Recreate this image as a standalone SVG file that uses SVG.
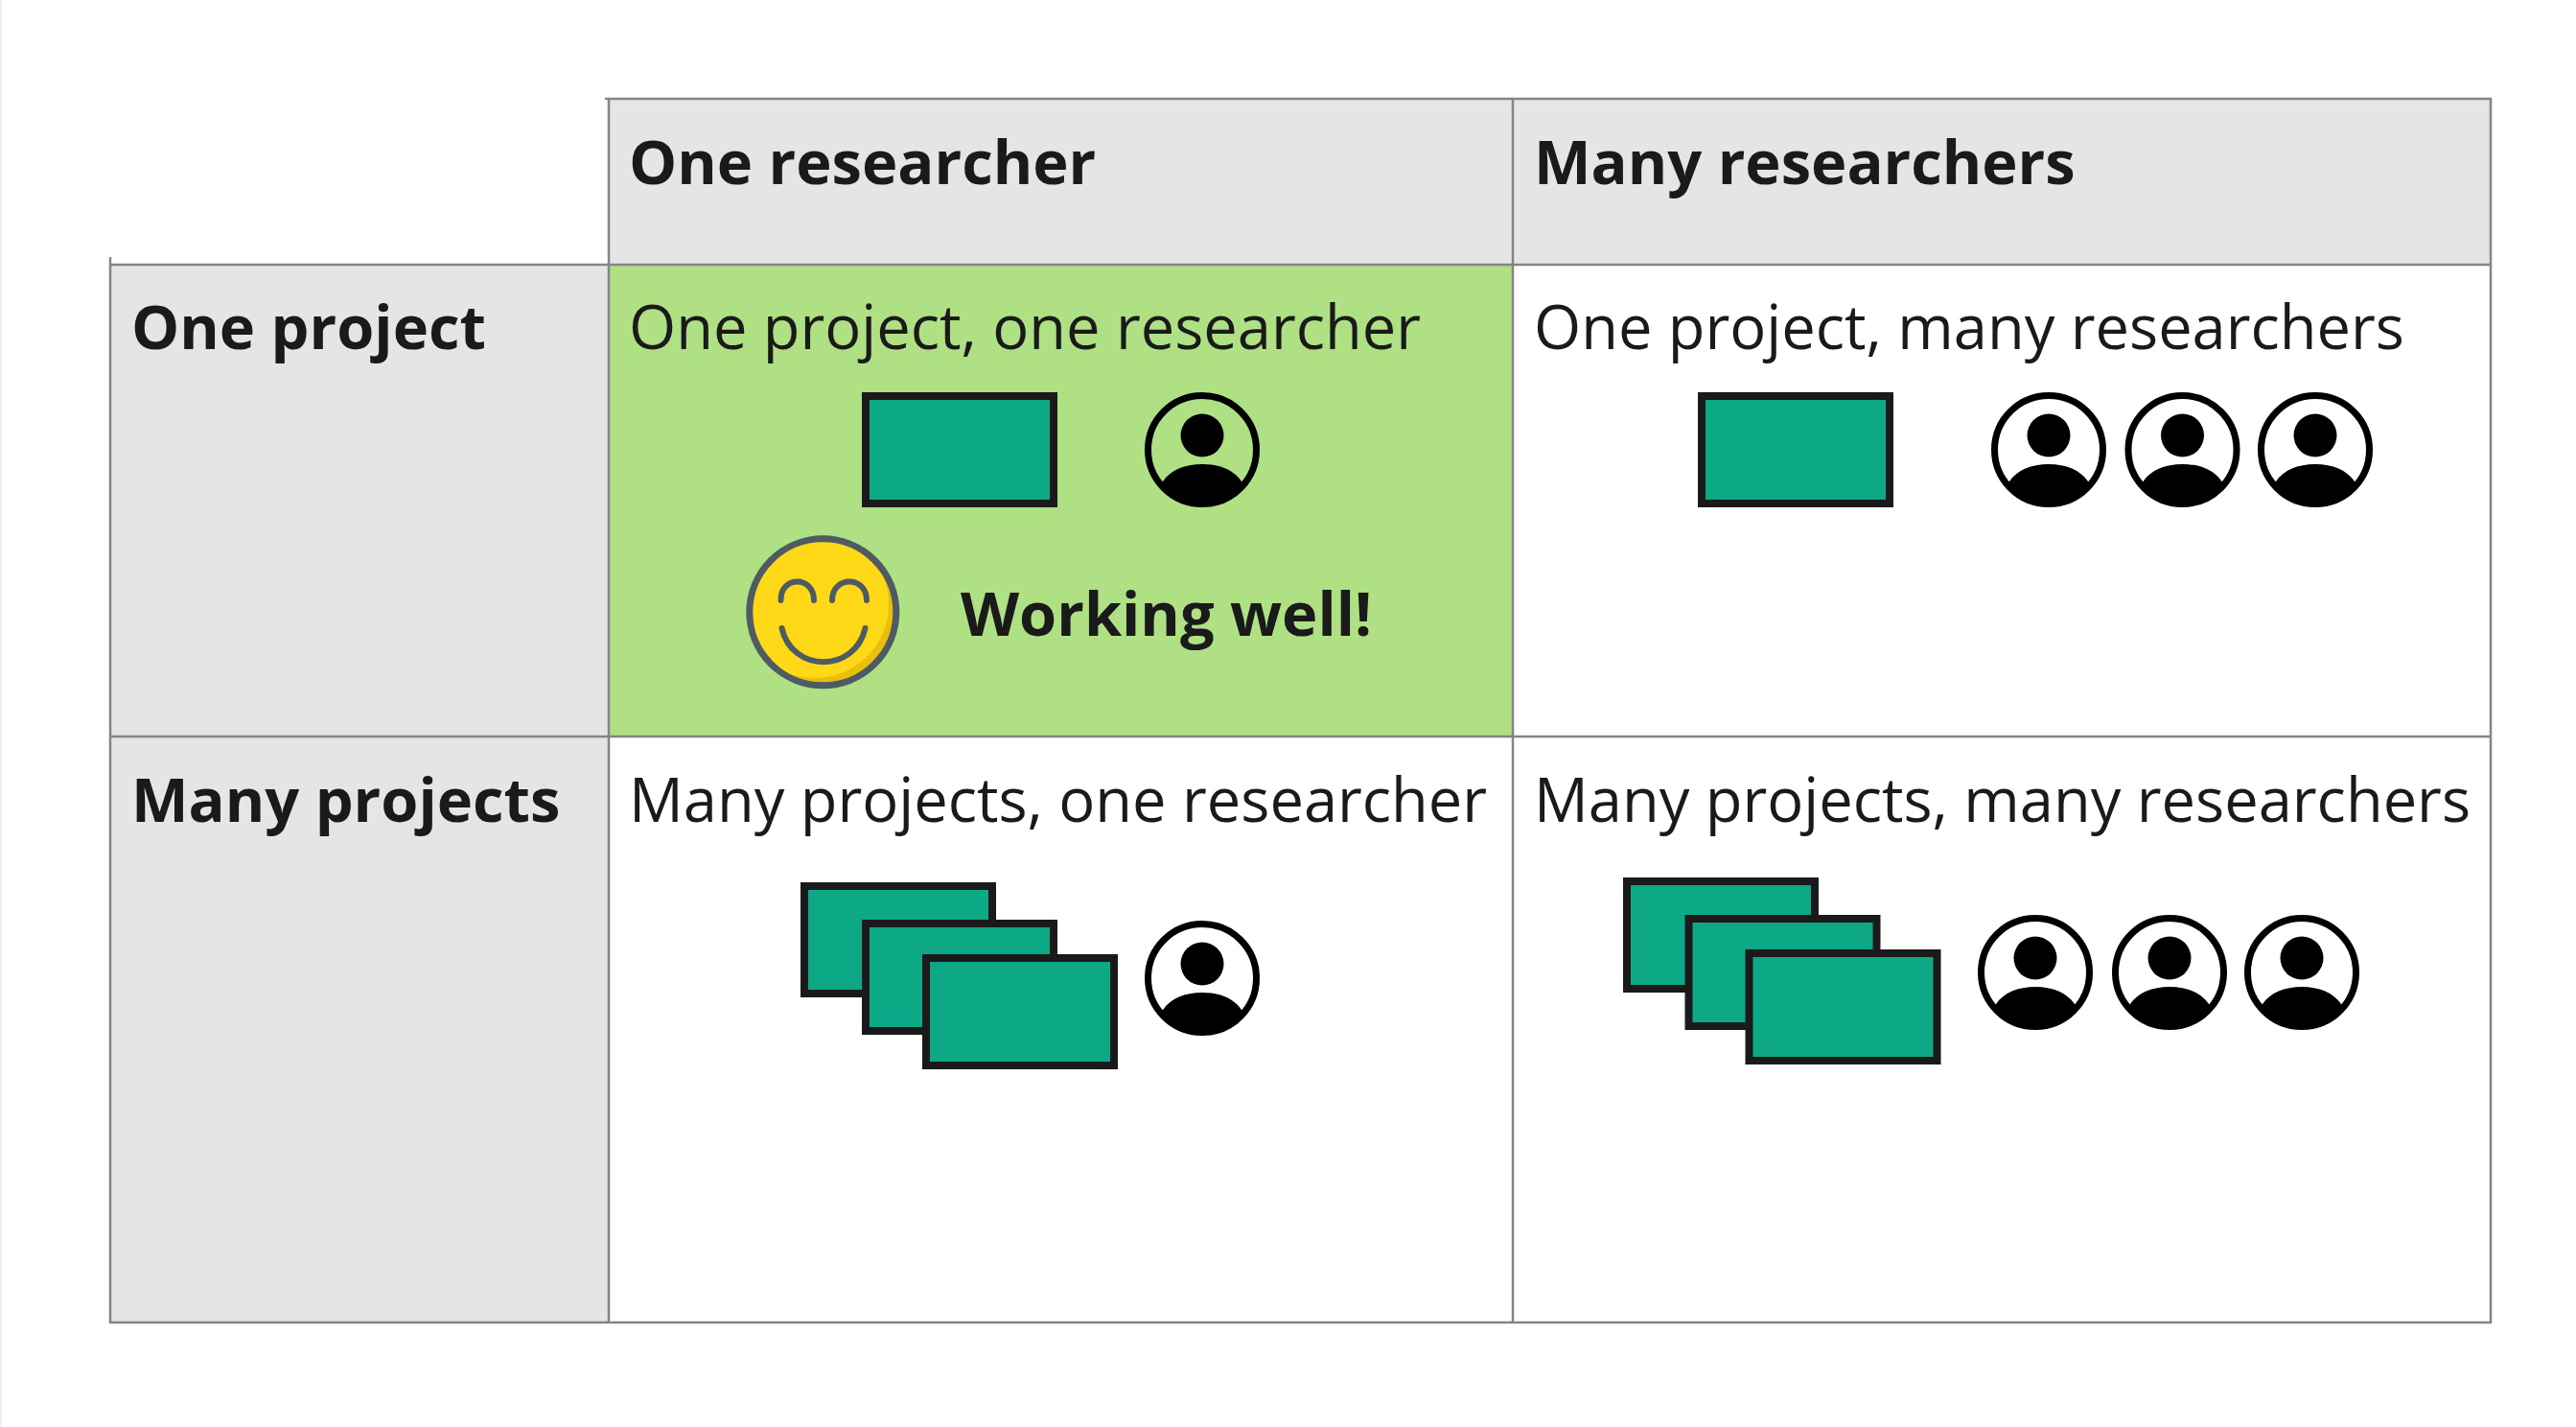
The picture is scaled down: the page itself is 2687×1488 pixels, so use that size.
<svg xmlns="http://www.w3.org/2000/svg" width="2687" height="1488" viewBox="0 0 2687 1488">
<style>
text{font-family:"Open Sans","Noto Sans","Liberation Sans",sans-serif;font-size:63.2px;fill:#1a1a1a}
.b{font-weight:700}
.h{fill:#e5e5e5}
.l{stroke:#858585;stroke-width:2.5;fill:none}
.p{fill:#0da886;stroke:#1a1a1a;stroke-width:8}
.s{fill:none;stroke:#4e5b62;stroke-width:6;stroke-linecap:round}
</style>
<defs>
<clipPath id="sc"><circle cx="858.3" cy="638.3" r="77"/></clipPath>
<g id="person"><circle r="56.5" fill="none" stroke="#000" stroke-width="7"/><circle cy="-15" r="22.5" fill="#000"/><path d="M-41 33C-33 21-18 15 0 15C18 15 33 21 41 33L45 36A57 57 0 0 1-45 36Z" fill="#000"/></g>
<rect id="project" class="p" width="196" height="112"/>
</defs>
<rect width="2687" height="1488" fill="#fff"/>
<rect width="2" height="1488" fill="#f0f0f0"/>
<g id="table">
<rect class="h" x="635" y="103" width="1963" height="173"/>
<rect class="h" x="115" y="276" width="520" height="1103"/>
<rect x="635" y="276" width="943" height="492" fill="#afe084"/>
<path class="l" d="M631 103H2598V1379H115V268M115 276H2598M115 768H2598M635 103V1379M1578 103V1379"/>
</g>
<g id="labels">
<text class="b" x="656" y="192">One researcher</text>
<text class="b" x="1600" y="192">Many researchers</text>
<text class="b" x="137" y="364">One project</text>
<text class="b" x="137" y="857">Many projects</text>
<text x="656" y="364">One project, one researcher</text>
<text x="1600" y="364">One project, many researchers</text>
<text x="656" y="857">Many projects, one researcher</text>
<text x="1600" y="857">Many projects, many researchers</text>
<text class="b" x="1002" y="663">Working well!</text>
</g>
<g id="cell-one-one">
<use href="#project" x="903" y="413"/>
<use href="#person" x="1254" y="469"/>
<g id="smiley">
<circle cx="858.3" cy="638.300" r="77" fill="#e8c00c"/>
<circle cx="850" cy="630" r="77" fill="#ffd917" clip-path="url(#sc)"/>
<circle cx="858.300" cy="638.300" r="76.500" fill="none" stroke="#4e5b62" stroke-width="7"/>
<path class="s" d="M814.500 626C814 600 849 600 849 626M868 626C868 600 904 600 904 626M815.500 655C826 702 892 702 902.500 655"/>
</g>
</g>
<g id="cell-one-many">
<use href="#project" x="1775" y="413"/>
<use href="#person" x="2137" y="469"/>
<use href="#person" x="2276.500" y="469"/>
<use href="#person" x="2415" y="469"/>
</g>
<g id="cell-many-one">
<use href="#project" x="839" y="924"/>
<use href="#project" x="903" y="963"/>
<use href="#project" x="966" y="999"/>
<use href="#person" x="1254" y="1020"/>
</g>
<g id="cell-many-many">
<use href="#project" x="1697" y="919"/>
<use href="#project" x="1761.500" y="958"/>
<use href="#project" x="1824.500" y="994"/>
<use href="#person" x="2123" y="1014"/>
<use href="#person" x="2263" y="1014"/>
<use href="#person" x="2401" y="1014"/>
</g>
</svg>
